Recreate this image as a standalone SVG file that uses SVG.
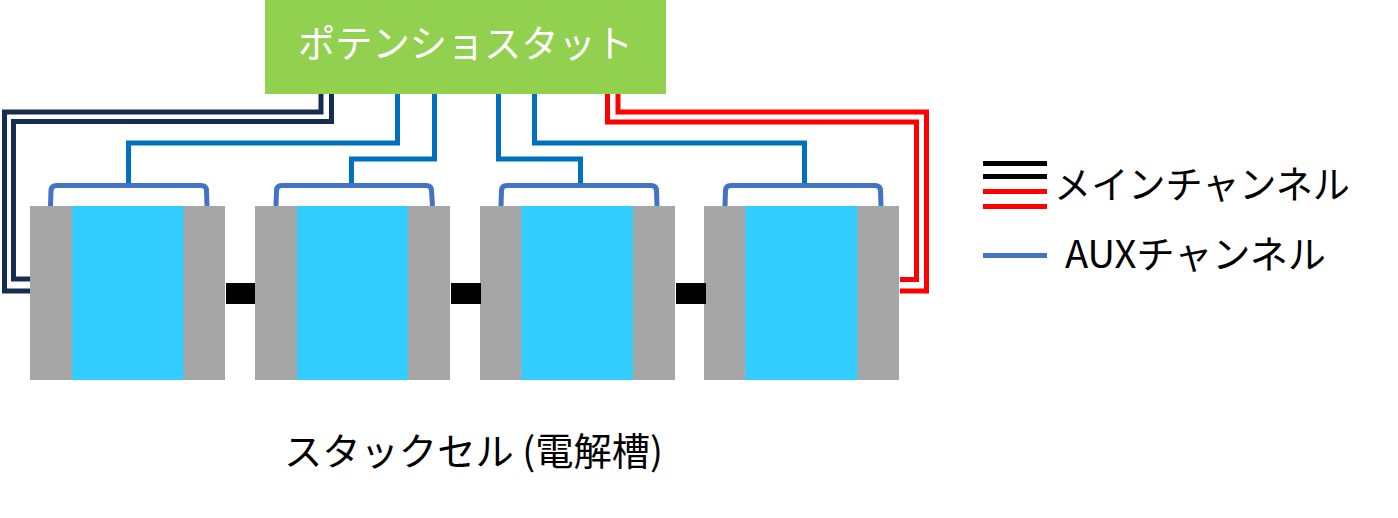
<svg xmlns="http://www.w3.org/2000/svg" width="1398" height="518" viewBox="0 0 1398 518">
<style>
.w{fill:none;stroke-width:5;stroke-linejoin:miter}
.navy{stroke:#172C51}.red{stroke:#FF0000}.ch{stroke:#0070C0}.aux{stroke:#4472C4}.blk{stroke:#000}
.g{fill:#A6A6A6}.e{fill:#33CCFF}
text{font-family:"Noto Sans CJK JP","Liberation Sans",sans-serif;font-size:38px;fill:#000}
</style>
<rect width="1398" height="518" fill="#fff"/>
<g id="connectors">
<path class="w navy" d="M321 94V112H4.500V291H31"/>
<path class="w navy" d="M331.500 94V121.500H13.500V279H31"/>
<path class="w red" d="M618 94V112H926.500V291H900"/>
<path class="w red" d="M607.500 94V122H916.500V279.500H900"/>
<path class="w ch" d="M397.500 94V143H128.500V186"/>
<path class="w ch" d="M434.500 94V159H351.500V186"/>
<path class="w ch" d="M498.500 94V159H580.500V186"/>
<path class="w ch" d="M534.500 94V143H804.500V186"/>
<path class="w aux" d="M50.500 206L51 191Q51 185.500 57 185.500H201Q206.500 185.500 206.500 191L207 206"/>
<path class="w aux" d="M276 206L276.500 191Q276.500 185.500 282 185.500H426Q431.500 185.500 431.500 191L432.500 206"/>
<path class="w aux" d="M501 206L501.500 191Q501.500 185.500 507 185.500H651Q656.500 185.500 656.500 191L657 206"/>
<path class="w aux" d="M725 206L725.500 191Q725.500 185.500 731 185.500H875Q880.500 185.500 880.500 191L881 206"/>
</g>
<g id="potentiostat"><rect x="265" y="0" width="401" height="94" fill="#92D050"/>
<text x="298" y="57" textLength="335" lengthAdjust="spacingAndGlyphs" style="fill:#fff">ポテンショスタット</text></g>
<g id="cell1"><rect class="g" x="30" y="206" width="195" height="174"/><rect class="e" x="72" y="206" width="111.500" height="174"/></g>
<g id="cell2"><rect class="g" x="255" y="206" width="195" height="174"/><rect class="e" x="297" y="206" width="111" height="174"/></g>
<g id="cell3"><rect class="g" x="480" y="206" width="195" height="174"/><rect class="e" x="521.500" y="206" width="111.500" height="174"/></g>
<g id="cell4"><rect class="g" x="704" y="206" width="195" height="174"/><rect class="e" x="745.500" y="206" width="112" height="174"/></g>
<g id="links" fill="#000"><rect x="226" y="283" width="29" height="21"/><rect x="451" y="283" width="30" height="21"/><rect x="676" y="283" width="30" height="21"/></g>
<g id="legend">
<path class="w blk" d="M983 163.500H1047M983 176.500H1047"/>
<path class="w red" d="M983 191.500H1047M983 206.500H1047"/>
<path class="w aux" d="M983 255.500H1047"/>
<text x="1054" y="198" textLength="296" lengthAdjust="spacingAndGlyphs">メインチャンネル</text>
<text x="1065" y="268" textLength="261" lengthAdjust="spacingAndGlyphs">AUXチャンネル</text>
</g>
<g id="caption"><text x="284" y="465" textLength="379" lengthAdjust="spacingAndGlyphs">スタックセル (電解槽)</text></g>
</svg>
